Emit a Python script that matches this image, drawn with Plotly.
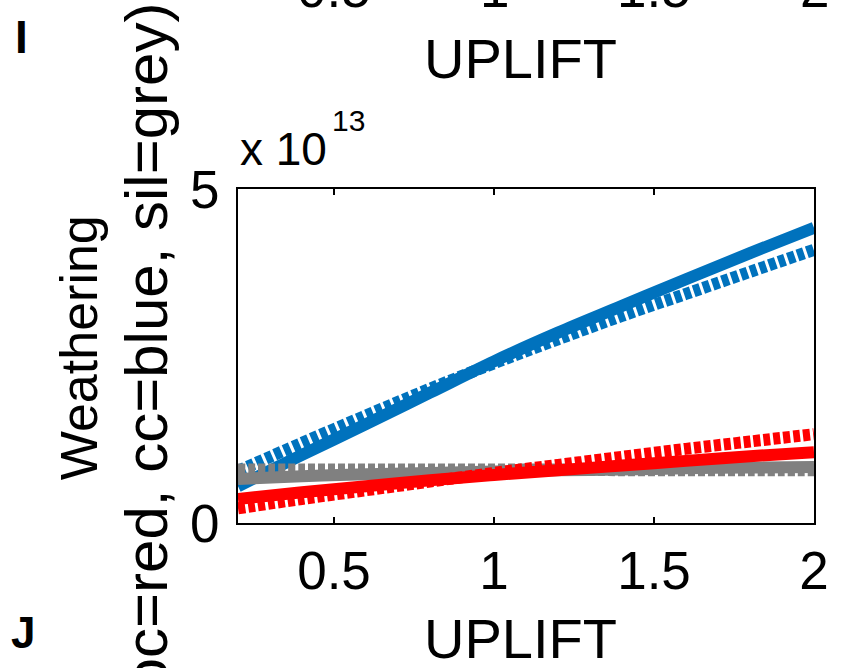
import plotly.graph_objects as go

# Uplift scaling factor (x axis)
uplift = [0.2, 0.4, 0.6, 0.8, 1.0, 1.2, 1.4, 1.6, 1.8, 2.0]

# Weathering fluxes (units of 1e13)
cc_solid = [0.55, 1.02, 1.48, 1.95, 2.42, 2.85, 3.25, 3.65, 4.04, 4.42]
cc_dotted = [0.78, 1.20, 1.61, 2.01, 2.39, 2.75, 3.10, 3.43, 3.76, 4.09]
sil_solid = [0.66, 0.70, 0.73, 0.75, 0.77, 0.79, 0.80, 0.82, 0.83, 0.84]
sil_dotted = [0.80, 0.80, 0.80, 0.80, 0.80, 0.80, 0.79, 0.79, 0.79, 0.79]
oc_solid = [0.36, 0.46, 0.55, 0.64, 0.72, 0.79, 0.86, 0.93, 1.00, 1.06]
oc_dotted = [0.22, 0.36, 0.49, 0.62, 0.75, 0.87, 0.99, 1.11, 1.22, 1.33]

x_ticks = [0.5, 1, 1.5, 2]
x_tick_text = ["0.5", "1", "1.5", "2"]
y_ticks = [0, 5]
y_tick_text = ["0", "5"]

SCALE = 1e13
BLUE = "#0072BD"
GREY = "#808080"
RED = "#FF0000"
FONT = "Liberation Sans, Arial, sans-serif"
DOT = "7px,3px"

# plot area in pixels
L, R, T, B = 238, 822, 189, 523
W, H = 841, 668

fig = go.Figure()

series = [
    (cc_dotted, BLUE, DOT),
    (cc_solid, BLUE, "solid"),
    (sil_dotted, GREY, DOT),
    (sil_solid, GREY, "solid"),
    (oc_dotted, RED, DOT),
    (oc_solid, RED, "solid"),
]
for vals, color, dash in series:
    fig.add_trace(go.Scatter(
        x=uplift,
        y=[v * SCALE for v in vals],
        mode="lines",
        line=dict(color=color, width=12, dash=dash, shape="spline"),
        hoverinfo="skip",
    ))

axis_common = dict(
    showline=True, linewidth=2, linecolor="black", mirror="allticks",
    ticks="inside", ticklen=6, tickwidth=2, tickcolor="black",
    showgrid=False, zeroline=False,
    tickfont=dict(family=FONT, size=53, color="black"),
)

fig.update_xaxes(range=[0.2, 2], tickvals=x_ticks, ticktext=x_tick_text,
                 ticklabelstandoff=0, **axis_common)
fig.update_yaxes(range=[0, 5 * SCALE], tickvals=[v * SCALE for v in y_ticks],
                 ticktext=y_tick_text, ticklabelstandoff=6, **axis_common)


def ann(text, x, y, size, angle=0, bold=False, xanchor="center",
        yanchor="middle"):
    if bold:
        text = "<b>" + text + "</b>"
    fig.add_annotation(
        text=text, x=x, y=y, xref="paper", yref="paper", showarrow=False,
        textangle=angle, xanchor=xanchor, yanchor=yanchor,
        font=dict(family=FONT, size=size, color="black"),
    )


def px(xp):
    return (xp - L) / float(R - L)


def py(yp):
    return (B - yp) / float(B - T)


# axis titles
ann("UPLIFT", px(524), py(638), 56)
ann("Weathering", px(77), py(348), 52, angle=-90)
ann("(oc=red, cc=blue, sil=grey)", px(145), py(357), 60, angle=-90)

# exponent multiplier
ann("x 10", px(238), py(149), 46, xanchor="left")
ann("13", px(331), py(121), 30, xanchor="left")

# panel letters
ann("I", px(18), py(37), 46, bold=True)
ann("J", px(20), py(632), 44, bold=True)

# neighbouring panel's axis labels
for xv, t in zip(x_ticks, x_tick_text):
    ann(t, px(L + (xv - 0.2) * (R - L) / 1.8), py(-12), 53)
ann("UPLIFT", px(524), py(58), 56)

fig.update_layout(
    width=W, height=H,
    margin=dict(l=L, r=W - R, t=T, b=H - B),
    plot_bgcolor="white", paper_bgcolor="white",
    showlegend=False,
)

fig.write_html("out.html")
